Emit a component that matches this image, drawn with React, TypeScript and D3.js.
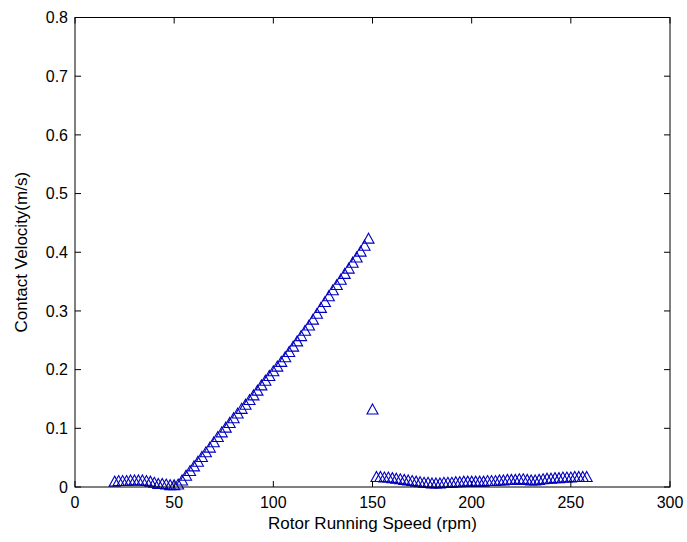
import React, { useEffect } from "react";
import * as d3 from "d3";

const speedRpm: number[] = [
  20, 22, 24, 26, 28, 30, 32, 34, 36, 38, 40, 42, 44, 46, 48, 50, 52,
  54, 56, 58, 60, 62, 64, 66, 68, 70, 72, 74, 76, 78, 80, 82, 84, 86, 88, 90,
  92, 94, 96, 98, 100, 102, 104, 106, 108, 110, 112, 114, 116, 118, 120, 122,
  124, 126, 128, 130, 132, 134, 136, 138, 140, 142, 144, 146, 148,
  150,
  152, 154, 156, 158, 160, 162, 164, 166, 168, 170, 172, 174, 176, 178, 180,
  182, 184, 186, 188, 190, 192, 194, 196, 198, 200, 202, 204, 206, 208, 210,
  212, 214, 216, 218, 220, 222, 224, 226, 228, 230, 232, 234, 236, 238, 240,
  242, 244, 246, 248, 250, 252, 254, 256, 258,
];

const contactVelocity: number[] = [
  0.010, 0.011, 0.011, 0.011, 0.012, 0.012, 0.012, 0.012, 0.011, 0.010, 0.008,
  0.006, 0.006, 0.005, 0.004, 0.004, 0.005,
  0.012, 0.020, 0.028, 0.036, 0.044, 0.052, 0.060, 0.068, 0.077, 0.086, 0.094,
  0.102, 0.110, 0.118, 0.126, 0.134, 0.141, 0.149, 0.157, 0.165, 0.174, 0.182,
  0.190, 0.198, 0.206, 0.214, 0.222, 0.231, 0.240, 0.249, 0.258, 0.267, 0.276,
  0.286, 0.296, 0.306, 0.316, 0.326, 0.336, 0.345, 0.354, 0.364, 0.373, 0.383,
  0.392, 0.402, 0.412, 0.424,
  0.133,
  0.018, 0.018, 0.017, 0.017, 0.016, 0.015, 0.014, 0.013, 0.012, 0.011, 0.010,
  0.009, 0.008, 0.008, 0.007, 0.007, 0.007, 0.008, 0.008, 0.008, 0.009, 0.009,
  0.010, 0.010, 0.010, 0.010, 0.010, 0.010, 0.011, 0.011, 0.011, 0.012, 0.012,
  0.013, 0.013, 0.013, 0.014, 0.014, 0.013, 0.012, 0.012, 0.013, 0.014, 0.015,
  0.015, 0.016, 0.016, 0.017, 0.017, 0.017, 0.018, 0.018, 0.018, 0.018,
];

const xTicks: number[] = [0, 50, 100, 150, 200, 250, 300];
const yTicks: number[] = [0, 0.1, 0.2, 0.3, 0.4, 0.5, 0.6, 0.7, 0.8];
const xLabel = "Rotor Running Speed (rpm)";
const yLabel = "Contact Velocity(m/s)";

const W = 687;
const H = 542;
const left = 75;
const right = 670;
const top = 17.5;
const bottom = 487;
const FONT = "'Liberation Sans', Arial, Helvetica, sans-serif";
const MARK = "#0000c0";

export default function App() {
  useEffect(() => {
    document.body.style.margin = "0";
  }, []);

  const x = d3.scaleLinear().domain([0, 300]).range([left, right]);
  const y = d3.scaleLinear().domain([0, 0.8]).range([bottom, top]);

  const tw = 5.5;
  const th = 5;
  const tri = (cx: number, cy: number) =>
    `M${cx},${cy - th}L${cx + tw},${cy + th}L${cx - tw},${cy + th}Z`;

  const tick = 6;
  const fmt = d3.format(".1f");

  return (
    <svg
      width={W}
      height={H}
      style={{ position: "absolute", left: 0, top: 0, background: "#fff" }}
    >
      <rect x={0} y={0} width={W} height={H} fill="#fff" />
      <g>
        {speedRpm.map((s, i) => (
          <path
            key={i}
            d={tri(x(s), y(contactVelocity[i]))}
            fill="none"
            stroke={MARK}
            strokeWidth={1.1}
          />
        ))}
      </g>
      <rect
        x={left}
        y={top}
        width={right - left}
        height={bottom - top}
        fill="none"
        stroke="#000"
        strokeWidth={1}
      />
      {xTicks.map((t) => (
        <g key={"x" + t}>
          <line x1={x(t)} x2={x(t)} y1={bottom} y2={bottom - tick} stroke="#000" />
          <line x1={x(t)} x2={x(t)} y1={top} y2={top + tick} stroke="#000" />
          <text
            x={x(t)}
            y={508}
            textAnchor="middle"
            fontFamily={FONT}
            fontSize={16}
            fill="#000"
          >
            {t}
          </text>
        </g>
      ))}
      {yTicks.map((t) => (
        <g key={"y" + t}>
          <line x1={left} x2={left + tick} y1={y(t)} y2={y(t)} stroke="#000" />
          <line x1={right} x2={right - tick} y1={y(t)} y2={y(t)} stroke="#000" />
          <text
            x={68}
            y={y(t)}
            dy="0.36em"
            textAnchor="end"
            fontFamily={FONT}
            fontSize={16}
            fill="#000"
          >
            {t === 0 ? "0" : fmt(t)}
          </text>
        </g>
      ))}
      <text
        x={(left + right) / 2}
        y={529}
        textAnchor="middle"
        fontFamily={FONT}
        fontSize={17}
        fill="#000"
      >
        {xLabel}
      </text>
      <text
        transform={`translate(27,${(top + bottom) / 2}) rotate(-90)`}
        textAnchor="middle"
        fontFamily={FONT}
        fontSize={17}
        fill="#000"
      >
        {yLabel}
      </text>
    </svg>
  );
}
